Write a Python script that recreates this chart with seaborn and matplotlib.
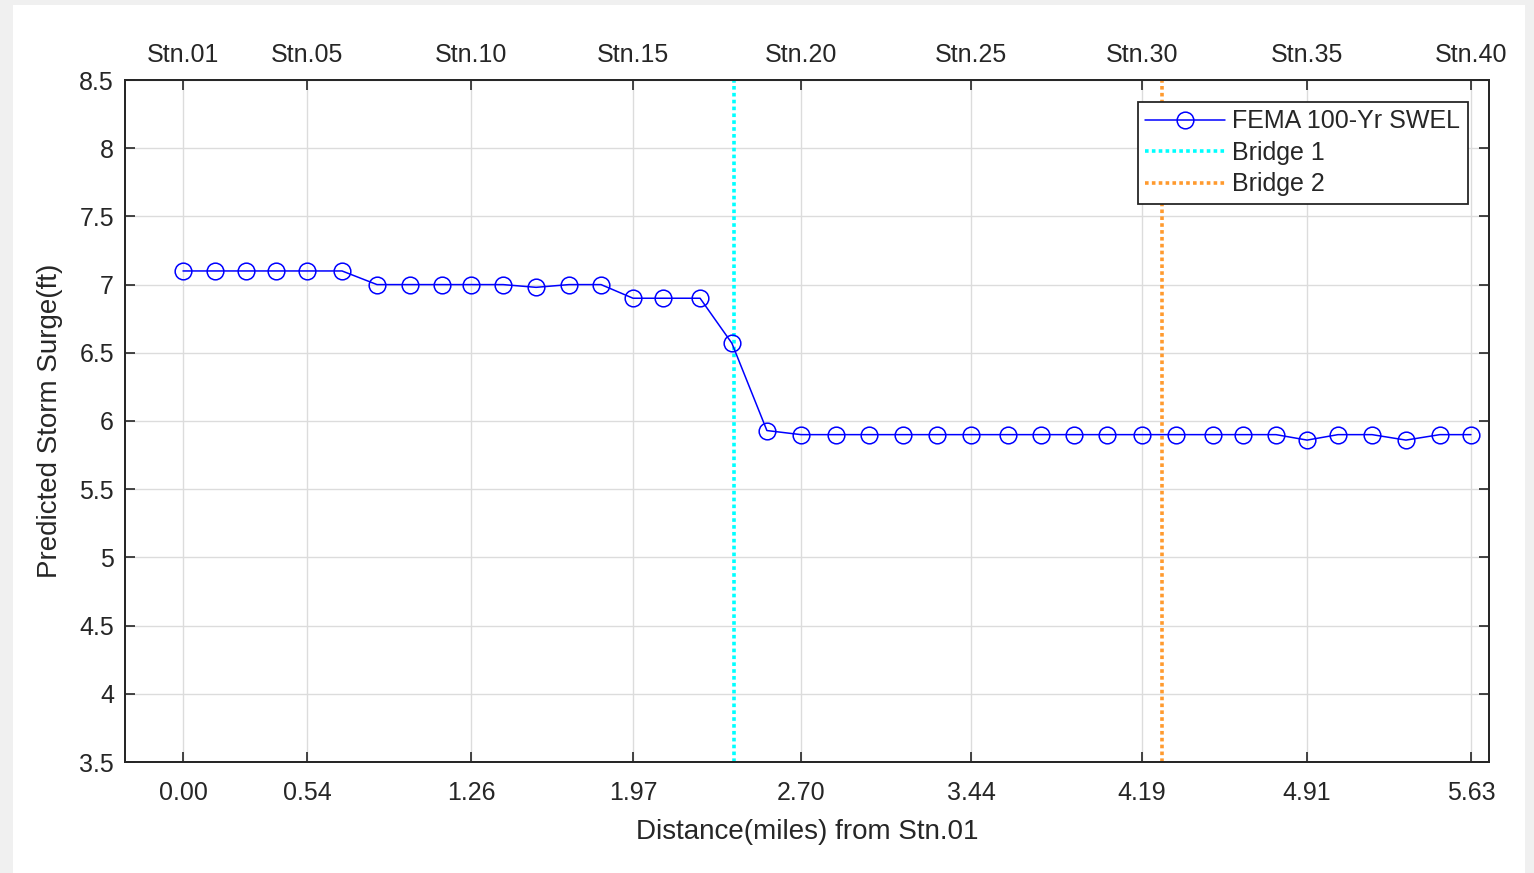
import numpy as np
import pandas as pd
import matplotlib
matplotlib.use("Agg")
import matplotlib.pyplot as plt
import seaborn as sns
from matplotlib.patches import Rectangle

# ---- data ----
stations = [f"Stn.{i:02d}" for i in range(1, 41)]
distance_miles = [0.000, 0.140, 0.275, 0.406, 0.542, 0.695, 0.848, 0.992, 1.132, 1.260,
                  1.399, 1.543, 1.687, 1.827, 1.967, 2.098, 2.260, 2.399, 2.552, 2.701,
                  2.854, 2.998, 3.147, 3.295, 3.444, 3.606, 3.750, 3.894, 4.038, 4.191,
                  4.340, 4.502, 4.633, 4.777, 4.913, 5.048, 5.197, 5.345, 5.493, 5.629]
surge_ft = [7.10, 7.10, 7.10, 7.10, 7.10, 7.10, 7.00, 7.00, 7.00, 7.00,
            7.00, 6.98, 7.00, 7.00, 6.90, 6.90, 6.90, 6.57, 5.93, 5.90,
            5.90, 5.90, 5.90, 5.90, 5.90, 5.90, 5.90, 5.90, 5.90, 5.90,
            5.90, 5.90, 5.90, 5.90, 5.86, 5.90, 5.90, 5.86, 5.90, 5.90]
tick_station_idx = [0, 4, 9, 14, 19, 24, 29, 34, 39]
bottom_tick_labels = ["0.00", "0.54", "1.26", "1.97", "2.70", "3.44", "4.19", "4.91", "5.63"]
bridge1_mile = 2.408
bridge2_mile = 4.279
series_label = "FEMA 100-Yr SWEL"
bridge_labels = ["Bridge 1", "Bridge 2"]

df = pd.DataFrame({"distance": distance_miles, "surge": surge_ft, "station": stations})

# ---- style ----
sns.set_style("ticks")
plt.rcParams["font.family"] = ["Liberation Sans", "DejaVu Sans"]
txt = "#262626"
plt.rcParams.update({
    "text.color": txt, "axes.labelcolor": txt,
    "xtick.color": txt, "ytick.color": txt,
    "axes.edgecolor": "#262626",
})
TICK_FS = 18
LABEL_FS = 20

W, H = 1534, 873
fig = plt.figure(figsize=(W / 100, H / 100), dpi=100, facecolor="#f0f0f0")
fig.patches.append(Rectangle((13 / W, 0), (1525 - 13) / W, (H - 5) / H,
                             transform=fig.transFigure, facecolor="white",
                             edgecolor="none", zorder=-10))

ax = fig.add_axes([125 / W, 1 - 762 / H, (1489 - 125) / W, (762 - 80) / H])
ax.set_facecolor("white")

sns.lineplot(data=df, x="distance", y="surge", ax=ax, color="blue", linewidth=1.1,
             marker="o", markersize=12, markerfacecolor="none", markeredgecolor="blue",
             markeredgewidth=1.1, label=series_label, sort=False, zorder=3)
ax.axvline(bridge1_mile, color="#00FFFF", linestyle=(0, (1, 0.9)), linewidth=2.6,
           label=bridge_labels[0], zorder=2)
ax.axvline(bridge2_mile, color="#FF9A2E", linestyle=(0, (1, 0.9)), linewidth=2.6,
           label=bridge_labels[1], zorder=2)

xlo, xhi = -0.2535, 5.708
ax.set_xlim(xlo, xhi)
ax.set_ylim(3.5, 8.5)
tick_pos = [distance_miles[i] for i in tick_station_idx]
ax.set_xticks(tick_pos)
ax.set_xticklabels(bottom_tick_labels)
yt = np.arange(3.5, 8.51, 0.5)
ax.set_yticks(yt)
ax.set_yticklabels([f"{v:g}" for v in yt])
ax.grid(True, color="#dcdcdc", linewidth=1.0, zorder=0)
ax.set_axisbelow(True)

for s in ax.spines.values():
    s.set_visible(True)
    s.set_linewidth(1.3)
    s.set_color("#262626")

ax.tick_params(axis="both", direction="in", length=7, width=1.2, labelsize=TICK_FS,
               right=True)
ax.tick_params(axis="x", top=False, pad=13.5)
ax.tick_params(axis="y", pad=8)
ax.set_xlabel("Distance(miles) from Stn.01", fontsize=LABEL_FS)
ax.set_ylabel("Predicted Storm Surge(ft)", fontsize=LABEL_FS)
ax.xaxis.set_label_coords(0.5, (762 - 832) / 682)
ax.xaxis.label.set_va("center")
ax.yaxis.set_label_coords((50 - 125) / 1364, 0.5)
ax.yaxis.label.set_va("center")

ax2 = ax.twiny()
ax2.set_xlim(xlo, xhi)
ax2.set_xticks(tick_pos)
ax2.set_xticklabels([stations[i] for i in tick_station_idx])
ax2.tick_params(axis="x", direction="in", length=7, width=1.2, labelsize=TICK_FS, pad=9.5)
for s in ax2.spines.values():
    s.set_linewidth(1.3)
    s.set_color("#262626")

leg = ax.legend(loc="upper right", bbox_to_anchor=((1468 - 125) / 1364, (762 - 102) / 682),
                borderaxespad=0, fontsize=TICK_FS, frameon=True, fancybox=False,
                edgecolor="#262626", framealpha=1, handlelength=3.2, handletextpad=0.3,
                labelspacing=0.3, borderpad=0.3)
leg.get_frame().set_linewidth(1.3)

fig.savefig("out.png", dpi=100, facecolor=fig.get_facecolor())
